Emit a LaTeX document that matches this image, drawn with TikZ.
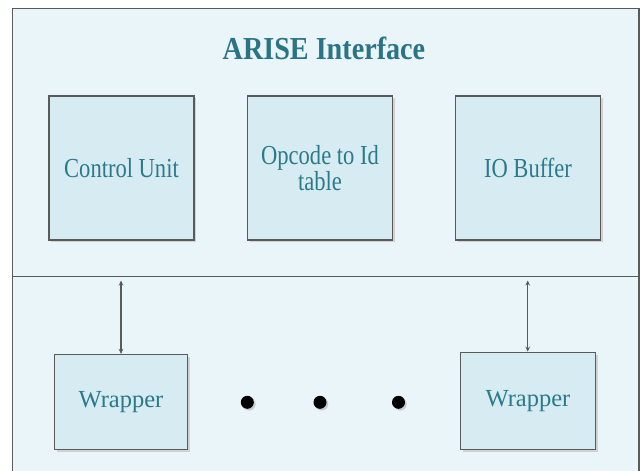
\documentclass[tikz,border=0pt]{standalone}
\usepackage{fontspec}
\setmainfont{LiberationSerif}[Extension=.ttf,UprightFont=*-Regular,BoldFont=*-Bold,ItalicFont=*-Italic,BoldItalicFont=*-BoldItalic]
\newfontfamily\boxfont{LiberationSerif}[Extension=.ttf,UprightFont=*-Regular,BoldFont=*-Bold,FakeStretch=0.82]
\newfontfamily\titlefont{LiberationSerif}[Extension=.ttf,UprightFont=*-Bold,BoldFont=*-Bold,FakeStretch=0.88]
\usetikzlibrary{arrows.meta,shadows}
\definecolor{bgc}{HTML}{E9F5F8}
\definecolor{boxc}{HTML}{D7EBF2}
\definecolor{txtc}{HTML}{2B7A8A}
\definecolor{ttlc}{HTML}{2A7486}
\definecolor{linec}{HTML}{5A5A5A}
\tikzset{
  shad/.style={drop shadow={shadow xshift=2.2pt,shadow yshift=-2.2pt,fill=black!18,opacity=1}},
  topbox/.style={draw=linec,line width=1.2pt,fill=boxc,shad,minimum width=145pt,minimum height=144pt,
    inner sep=0pt,align=center,text=txtc,font=\boxfont\fontsize{27.5}{24}\selectfont},
  wrapbox/.style={draw=linec,line width=1.2pt,fill=boxc,shad,minimum width=133pt,minimum height=95pt,
    inner sep=0pt,align=center,text=txtc,font=\fontsize{24.5}{26}\selectfont},
  blob/.style={circle,fill=black,minimum size=13pt,inner sep=0pt,
    drop shadow={shadow xshift=1.8pt,shadow yshift=-1.8pt,fill=black!20,opacity=1}},
  link/.style={draw=linec,line width=1.4pt,{Stealth[length=5pt,width=4.5pt]}-{Stealth[length=5pt,width=4.5pt]}}
}
\begin{document}
\begin{tikzpicture}[x=1pt,y=-1pt]
\useasboundingbox (0,0) rectangle (640,471);
\fill[white] (0,0) rectangle (640,471);
\begin{scope}
\clip (0,0) rectangle (640,471);
\draw[linec,line width=1.2pt,fill=bgc] (12.5,8.5) rectangle (639,480);
\end{scope}
\draw[linec,line width=1.2pt] (12.5,276.5) -- (639,276.5);
\node[text=ttlc,font=\titlefont\fontsize{32}{34}\selectfont] (title) at (324,48) {ARISE Interface};
\node[topbox] (cu) at (121.5,168) {Control Unit};
\node[topbox] (op) at (320,168) {Opcode to Id\\table};
\node[topbox] (io) at (528,168) {IO Buffer};
\node[wrapbox] (w1) at (121,402) {Wrapper};
\node[wrapbox,minimum width=135pt,minimum height=97pt] (w2) at (528,400.8) {Wrapper};
\node[blob] (d1) at (247.3,402.3) {};
\node[blob] (d2) at (320,402.3) {};
\node[blob] (d3) at (398.5,402.3) {};
\coordinate (a1) at (121,280.5);
\coordinate (a2) at (527.7,280.5);
\draw[link] (a1) -- (w1.north);
\draw[link] (a2) -- (a2 |- w2.north);
\end{tikzpicture}
\end{document}
